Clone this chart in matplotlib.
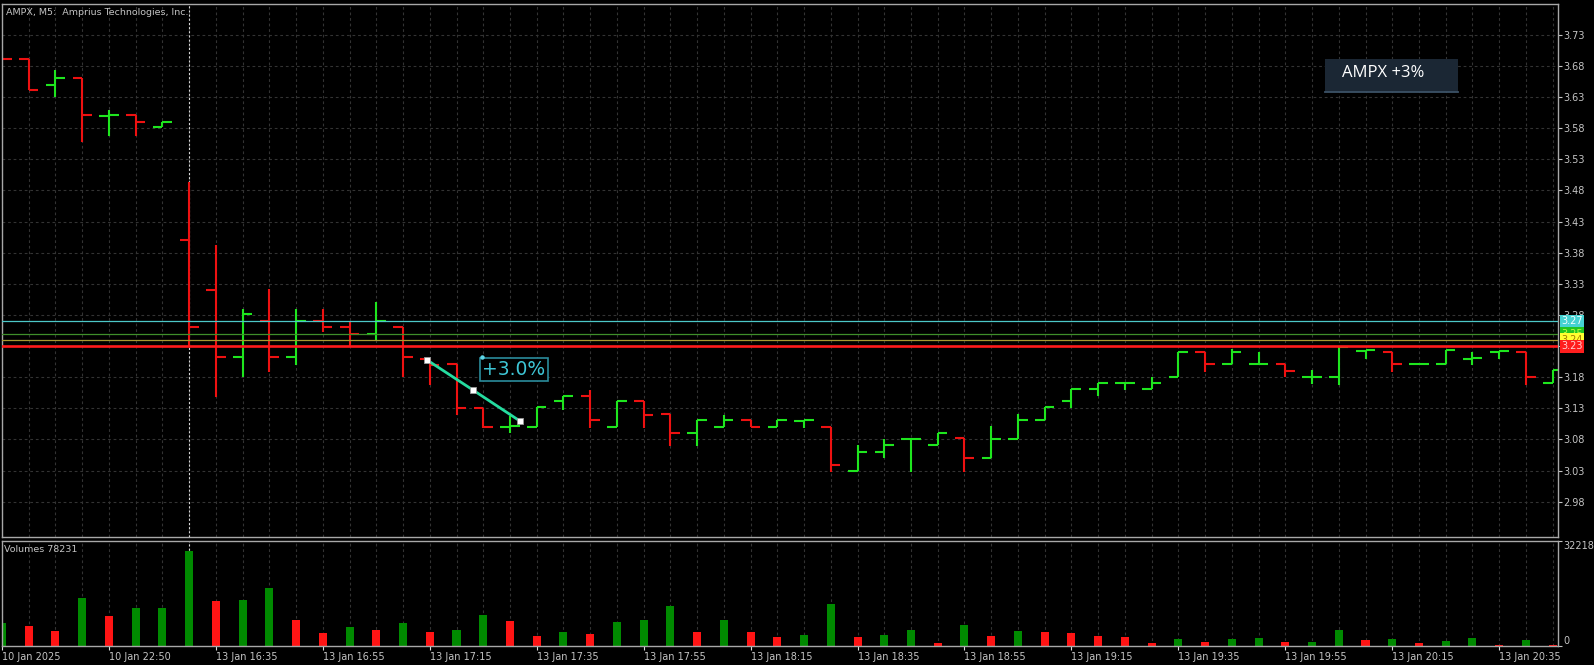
import numpy as np
import matplotlib
matplotlib.use('Agg')
import matplotlib.pyplot as plt
from matplotlib.patches import Rectangle
from matplotlib.lines import Line2D

plt.rcParams['lines.scale_dashes'] = False
plt.rcParams['font.family'] = ['DejaVu Sans']

W, H = 1594, 665

# M5 bars, AMPX (left to right)
opens = [3.692, 3.691, 3.650, 3.661, 3.600, 3.601, 3.581, 3.401, 3.320, 3.212,
         3.271, 3.212, 3.271, 3.260, 3.250, 3.260, 3.210, 3.202, 3.130, 3.100,
         3.100, 3.141, 3.150, 3.100, 3.141, 3.121, 3.090, 3.100, 3.111, 3.100,
         3.110, 3.100, 3.030, 3.060, 3.080, 3.071, 3.082, 3.051, 3.080, 3.111,
         3.141, 3.161, 3.170, 3.161, 3.181, 3.221, 3.201, 3.201, 3.201, 3.180,
         3.180, 3.222, 3.221, 3.201, 3.201, 3.210, 3.221, 3.221, 3.170]
highs = [3.692, 3.691, 3.673, 3.661, 3.609, 3.601, 3.590, 3.493, 3.392, 3.290,
         3.322, 3.290, 3.290, 3.271, 3.301, 3.260, 3.210, 3.202, 3.130, 3.117,
         3.132, 3.150, 3.159, 3.141, 3.141, 3.121, 3.111, 3.119, 3.111, 3.111,
         3.111, 3.100, 3.071, 3.080, 3.081, 3.091, 3.082, 3.102, 3.121, 3.132,
         3.161, 3.170, 3.171, 3.181, 3.221, 3.221, 3.226, 3.221, 3.201, 3.191,
         3.229, 3.224, 3.221, 3.202, 3.223, 3.221, 3.222, 3.221, 3.191]
lows = [3.691, 3.641, 3.630, 3.558, 3.568, 3.568, 3.581, 3.230, 3.149, 3.180,
        3.189, 3.199, 3.252, 3.230, 3.240, 3.180, 3.167, 3.119, 3.098, 3.090,
        3.100, 3.128, 3.098, 3.100, 3.098, 3.069, 3.069, 3.100, 3.100, 3.100,
        3.098, 3.028, 3.030, 3.050, 3.028, 3.071, 3.028, 3.051, 3.080, 3.111,
        3.130, 3.150, 3.159, 3.161, 3.181, 3.189, 3.201, 3.201, 3.181, 3.169,
        3.168, 3.209, 3.189, 3.200, 3.201, 3.200, 3.209, 3.168, 3.170]
closes = [3.691, 3.641, 3.661, 3.601, 3.601, 3.590, 3.590, 3.260, 3.212, 3.282,
          3.212, 3.271, 3.260, 3.250, 3.271, 3.212, 3.200, 3.130, 3.100, 3.101,
          3.132, 3.150, 3.111, 3.141, 3.119, 3.090, 3.111, 3.111, 3.100, 3.111,
          3.111, 3.039, 3.060, 3.071, 3.081, 3.091, 3.051, 3.080, 3.111, 3.132,
          3.161, 3.170, 3.171, 3.170, 3.221, 3.201, 3.221, 3.202, 3.190, 3.181,
          3.228, 3.223, 3.201, 3.202, 3.223, 3.211, 3.222, 3.181, 3.191]
volumes = [71000, 61000, 46500, 147000, 92000, 116000, 117000, 291000, 137000, 141000,
           179000, 80000, 40000, 59000, 49000, 72000, 44000, 50000, 94000, 78000,
           32000, 44000, 37000, 74000, 81000, 123000, 43000, 81000, 42000, 29000,
           34000, 129000, 29000, 35000, 50000, 8000, 63000, 32000, 46000, 43000,
           39000, 32000, 29000, 10000, 21000, 13000, 21000, 24000, 11000, 12000,
           50000, 19000, 21000, 8000, 15500, 24000, 3000, 17500, 3000]
vol_scale_max = 322186

time_labels = ['10 Jan 2025', '10 Jan 22:50', '13 Jan 16:35', '13 Jan 16:55', '13 Jan 17:15',
               '13 Jan 17:35', '13 Jan 17:55', '13 Jan 18:15', '13 Jan 18:35', '13 Jan 18:55',
               '13 Jan 19:15', '13 Jan 19:35', '13 Jan 19:55', '13 Jan 20:15', '13 Jan 20:35']
label_every = 4
day_break_bar = 7

price_ticks = [2.98, 3.03, 3.08, 3.13, 3.18, 3.23, 3.28, 3.33, 3.38, 3.43,
               3.48, 3.53, 3.58, 3.63, 3.68, 3.73]

# horizontal levels drawn on the chart
level_prices = [3.27, 3.25, 3.24, 3.23]
level_texts = ['3.27', '3.25', '3.24', '3.23']

# trend line drawn by hand, and its label
trend_x = [15.9, 17.63, 19.36]
trend_y = [3.2076, 3.159, 3.110]
pct_label_x, pct_label_y = 19.14, 3.1923
pct_corner_x, pct_corner_y = 17.95, 3.2125

# ---------------------------------------------------------------
GREEN_BAR = '#1ee61e'
RED_BAR = '#ee1111'
GRID = '#333333'
TXT = '#c4c4c4'
SPINE = '#a8a8a8'

fig = plt.figure(figsize=(W / 100, H / 100), dpi=100, facecolor='black')


def px_rect(x0, y0, x1, y1):
    return [x0 / W, 1 - y1 / H, (x1 - x0) / W, (y1 - y0) / H]


ax = fig.add_axes(px_rect(2, 4, 1558, 537), facecolor='black')
axv = fig.add_axes(px_rect(2, 541, 1558, 646), facecolor='black')

x = np.arange(len(opens))
o = np.array(opens)
c = np.array(closes)
bar_cols = [GREEN_BAR if cc >= oo else RED_BAR for oo, cc in zip(o, c)]

tick_len = 0.36
ax.vlines(x, lows, highs, colors=bar_cols, lw=1.5, zorder=2)
ax.hlines(o, x - tick_len, x, colors=bar_cols, lw=1.5, zorder=2)
ax.hlines(c, x, x + tick_len, colors=bar_cols, lw=1.5, zorder=2)

for a in (ax, axv):
    a.set_xlim(0.03, 58.2)
    a.set_axisbelow(True)
    for s in a.spines.values():
        s.set_color(SPINE)
        s.set_linewidth(1.0)
    a.axvline(day_break_bar, color='#d8d8d8', lw=0.8, ls=(0, (1.5, 1.5)), zorder=1.5)

ax.set_ylim(2.9234, 3.7793)
ax.set_xticks(x)
ax.tick_params(axis='x', length=0, labelbottom=False)
ax.yaxis.tick_right()
ax.set_yticks(price_ticks)
ax.set_yticklabels([f'{p:.2f}' for p in price_ticks])
ax.tick_params(axis='y', colors=TXT, labelcolor=TXT, labelsize=7, length=3, width=0.8, pad=1)
ax.grid(True, color=GRID, lw=0.8, ls=(0, (2, 2)))

# price levels
level_cols = ['#4cc8c8', '#3f8f2a', '#a89a30', '#ff1a1a']
level_lws = [0.9, 0.9, 0.9, 1.9]
box_face = ['#45d2d2', '#22c422', '#ffff30', '#ff1e1e']
box_text = ['#f4ffff', '#b8ff40', '#a07800', '#ffd0d0']
for i, lp in enumerate(level_prices):
    ax.axhline(lp, color=level_cols[i], lw=level_lws[i], zorder=2.6)
for i, lp in enumerate(level_prices):
    ax.text(1.002, lp, level_texts[i], transform=ax.get_yaxis_transform(), clip_on=False,
            ha='left', va='center', fontsize=7, color=box_text[i], zorder=5 + i,
            bbox=dict(boxstyle='square,pad=0.15', fc=box_face[i], ec='none'))

# trend line + label
ax.plot(trend_x, trend_y, color='#25dca0', lw=2.0, zorder=3)
ax.plot(trend_x, trend_y, ls='none', marker='s', ms=4.2, mfc='white', mec='#9a9a9a',
        mew=0.6, zorder=3.5)
ax.text(pct_label_x, pct_label_y, '+3.0%', color='#3ec6d6', fontsize=13.5,
        ha='center', va='center', zorder=4,
        bbox=dict(boxstyle='square,pad=0.13', fc='black', ec='#2b8c9c', lw=1.2))
ax.plot([pct_corner_x], [pct_corner_y], ls='none', marker='o', ms=2.2,
        color='#5fd8e8', zorder=4.5)

# volumes: green when volume rose vs previous bar
v = np.array(volumes)
vol_cols = ['#008a00' if i == 0 or v[i] > v[i - 1] else '#ff1414' for i in range(len(v))]
axv.bar(x, v, width=0.3, color=vol_cols, zorder=2)
axv.set_ylim(0, vol_scale_max)
axv.set_xticks(x, minor=True)
axv.set_xticks(x[::label_every])
axv.set_xticklabels(time_labels)
axv.tick_params(axis='x', which='major', colors='#e0e0e0', labelcolor=TXT, labelsize=7,
                length=3, width=0.8, pad=1)
axv.tick_params(axis='x', which='minor', length=0)
for lbl in axv.get_xticklabels():
    lbl.set_ha('left')
axv.grid(True, axis='x', which='both', color=GRID, lw=0.8, ls=(0, (2, 2)))
axv.yaxis.tick_right()
axv.set_yticks([0, vol_scale_max])
axv.set_yticklabels(['0', str(vol_scale_max)])
axv.tick_params(axis='y', colors=TXT, labelcolor=TXT, labelsize=7, length=3, width=0.8, pad=1)
ylbls = axv.get_yticklabels()
ylbls[0].set_va('bottom')
ylbls[1].set_va('top')

# header texts
fig.text(6 / W, 1 - 12.5 / H, 'AMPX, M5:  Amprius Technologies, Inc.', color=TXT,
         fontsize=6.8, va='center', ha='left')
fig.text(4 / W, 1 - 549 / H, 'Volumes 78231', color=TXT, fontsize=6.8, va='center', ha='left')

# info box top right
fig.add_artist(Rectangle((1325 / W, 1 - 92 / H), 133 / W, 33 / H, transform=fig.transFigure,
                         fc='#1b2734', ec='none', zorder=10))
fig.add_artist(Line2D([1325 / W, 1458 / W], [1 - 91.5 / H, 1 - 91.5 / H],
                      transform=fig.transFigure, color='#3c5266', lw=1.3, zorder=11))
fig.text(1342 / W, 1 - 73 / H, 'AMPX +3%', color='white', fontsize=12,
         family=['Open Sans', 'DejaVu Sans'], va='center', ha='left', zorder=12)

fig.savefig('out.png', dpi=100, facecolor='black')
